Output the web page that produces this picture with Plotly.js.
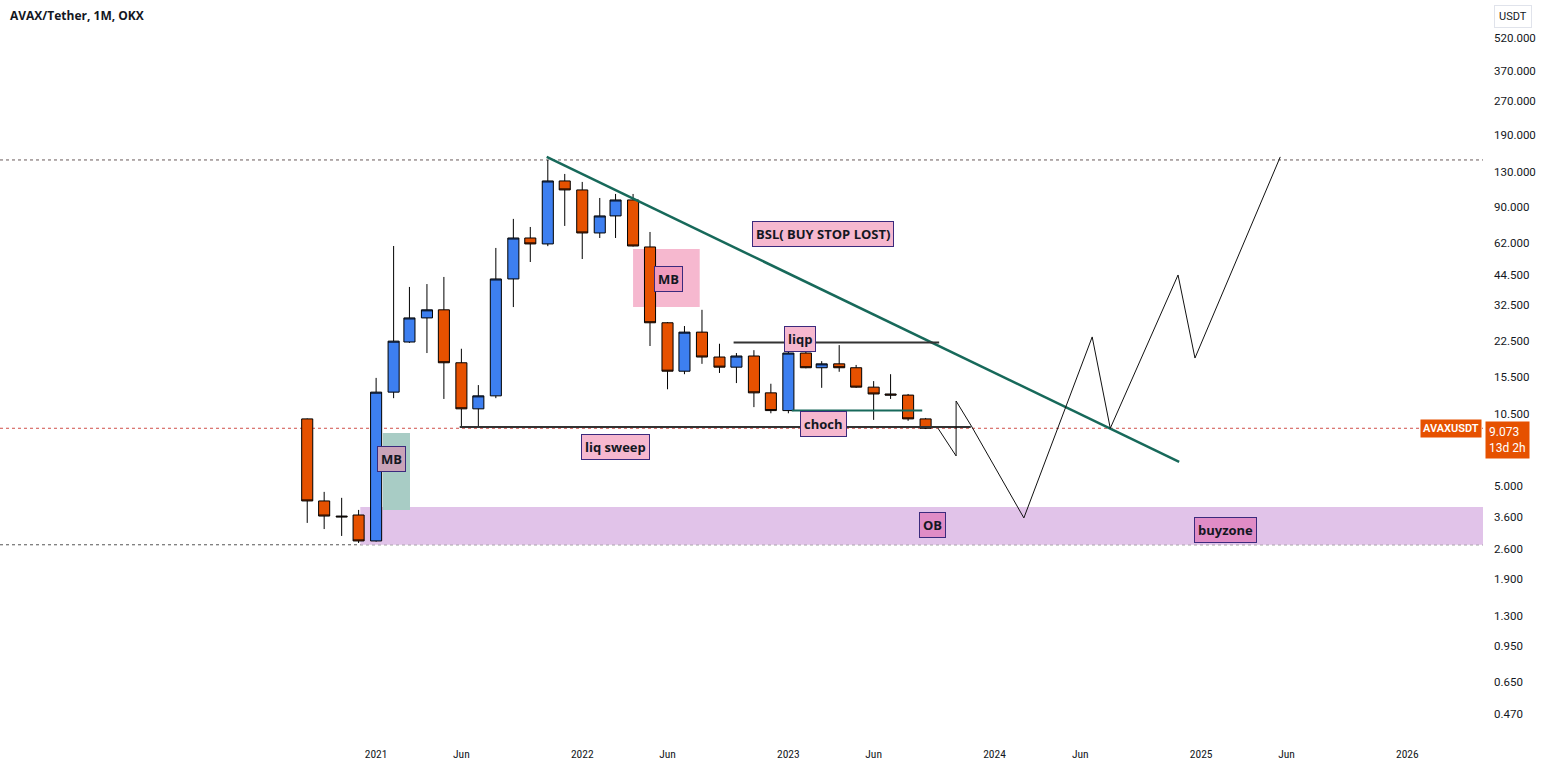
<!DOCTYPE html>
<html>
<head>
<meta charset="utf-8">
<script src="https://cdn.plot.ly/plotly-3.0.1.min.js"></script>
<style>
  html, body { margin: 0; padding: 0; background: #fff; }
  #chart { width: 1545px; height: 773px; }
</style>
</head>
<body>
<div id="chart"></div>
<script>
// monthly candles, AVAX/USDT (OKX)
var months = ['2020-09-01','2020-10-01','2020-11-01','2020-12-01',
  '2021-01-01','2021-02-01','2021-03-01','2021-04-01','2021-05-01','2021-06-01',
  '2021-07-01','2021-08-01','2021-09-01','2021-10-01','2021-11-01','2021-12-01',
  '2022-01-01','2022-02-01','2022-03-01','2022-04-01','2022-05-01','2022-06-01',
  '2022-07-01','2022-08-01','2022-09-01','2022-10-01','2022-11-01','2022-12-01',
  '2023-01-01','2023-02-01','2023-03-01','2023-04-01','2023-05-01','2023-06-01',
  '2023-07-01','2023-08-01','2023-09-01'];
var opens  = [10.0, 4.27, 3.65, 3.69, 2.82, 13.2, 22.2, 28.5, 31.0, 17.9, 11.1, 12.7,
  42.7, 65.3, 61.4, 118, 107.5, 68.8, 82.1, 96.9, 59.5, 27.1, 16.4, 24.6, 19.0, 17.1,
  19.2, 13.1, 10.9, 19.8, 17.0, 17.7, 17.0, 13.9, 12.95, 12.8, 10.0];
var highs  = [10.05, 4.69, 4.41, 3.89, 15.3, 60.1, 39.3, 40.5, 43.6, 20.7, 14.2, 58.9,
  79.6, 73.2, 146.7, 126.9, 116.8, 98.9, 103.1, 103.1, 69.5, 27.3, 26.2, 31.0, 21.8, 19.8,
  20.4, 14.4, 21.1, 22.2, 18.2, 21.5, 17.5, 14.8, 15.9, 12.95, 10.1];
var lows   = [3.40, 3.19, 2.97, 2.76, 2.80, 12.4, 22.0, 19.8, 12.3, 9.2, 9.2, 12.4,
  31.9, 50.9, 60.0, 74.0, 52.5, 65.3, 65.3, 59.8, 21.3, 13.6, 15.9, 17.7, 16.1, 14.5,
  11.3, 10.6, 10.6, 16.9, 13.8, 16.3, 13.8, 9.9, 12.3, 9.8, 9.0];
var closes = [4.27, 3.65, 3.62, 2.82, 13.2, 22.4, 28.5, 31.0, 17.9, 11.1, 12.7, 42.7,
  65.3, 61.4, 118, 107.5, 68.8, 82.1, 96.9, 60.1, 27.1, 16.4, 24.6, 19.0, 17.1, 19.2,
  13.1, 10.9, 19.8, 17.0, 17.7, 17.0, 13.9, 12.95, 12.8, 10.0, 9.073];

var lastPrice = 9.073;
var athPrice = 146.7;

// axis ticks
var xTickVals = ['2021-01-01','2021-06-01','2022-01-01','2022-06-01','2023-01-01','2023-06-01',
  '2024-01-01','2024-06-01','2025-01-01','2025-06-01','2026-01-01'];
var xTickText = ['2021','Jun','2022','Jun','2023','Jun','2024','Jun','2025','Jun','2026'];
var yTickVals = [520, 370, 270, 190, 130, 90, 62, 44.5, 32.5, 22.5, 15.5, 10.5, 5, 3.6, 2.6, 1.9, 1.3, 0.95, 0.65, 0.47];
var yTickText = ['520.000','370.000','270.000','190.000','130.000','90.000','62.000','44.500',
  '32.500','22.500','15.500','10.500','5.000','3.600','2.600','1.900','1.300','0.950','0.650','0.470'];

// drawings
var buyzoneDates = ['2020-12-04', '2026-05-15'];
var buyzonePrices = [2.71, 4.01];
var mbGreenDates = ['2021-01-13', '2021-03-02'];
var mbGreenPrices = [3.89, 8.64];
var mbPinkDates = ['2022-04-01', '2022-07-28'];
var mbPinkPrices = [31.9, 58.3];

var trendDates = ['2021-10-30', '2024-11-23'];
var trendPrices = [151.4, 6.40];
var sweepDates = ['2021-05-29', '2023-11-20'];
var sweepPrices = [9.2, 9.2];
var liqpDates = ['2022-09-26', '2023-09-25'];
var liqpPrices = [22.1, 22.1];
var chochDates = ['2023-01-07', '2023-08-26'];
var chochPrices = [10.9, 10.9];

var projDates = ['2023-09-23','2023-10-25','2023-10-25','2023-11-22','2024-02-22',
  '2024-06-22','2024-07-24','2024-11-21','2024-12-21','2025-05-21'];
var projPrices = [9.07, 6.81, 12.04, 9.2, 3.58, 23.4, 9.07, 44.5, 18.8, 151.4];

// zones go in as shapes under the candles (shape y takes plain prices on the log axis)
function zone(dates, prices, color) {
  return {type: 'rect', xref: 'x', yref: 'y', x0: dates[0], x1: dates[1], y0: prices[0], y1: prices[1],
    fillcolor: color, line: {width: 0}, layer: 'below'};
}
function seg(dates, prices, color, width) {
  return {x: dates, y: prices, type: 'scatter', mode: 'lines',
    line: {color: color, width: width}, hoverinfo: 'skip'};
}

var traces = [
  {
    x: months, open: opens, high: highs, low: lows, close: closes,
    type: 'candlestick', hoverinfo: 'skip',
    increasing: {line: {color: '#000000', width: 1}, fillcolor: '#3d7ff0'},
    decreasing: {line: {color: '#000000', width: 1}, fillcolor: '#e65100'}
  },
  seg(trendDates, trendPrices, '#17695a', 2.5),
  seg(sweepDates, sweepPrices, '#333333', 2),
  seg(liqpDates, liqpPrices, '#333333', 2),
  seg(chochDates, chochPrices, '#17695a', 2),
  seg(projDates, projPrices, '#111111', 1)
];

function tag(text, date, price, bg) {
  return {
    text: text, x: date, y: Math.log10(price), xref: 'x', yref: 'y',
    showarrow: false, bgcolor: bg, bordercolor: '#3b2a7d', borderwidth: 1, borderpad: 3,
    font: {family: 'Open Sans, sans-serif', size: 13, color: '#131722', weight: 700}
  };
}

var annotations = [
  {text: '<b>AVAX/Tether, 1M, OKX</b>', xref: 'paper', yref: 'paper', x: 8 / 1483, y: 1 - 16 / 745,
    xanchor: 'left', yanchor: 'middle', showarrow: false,
    font: {family: 'Open Sans, sans-serif', size: 12, color: '#131722'}},
  tag('BSL( BUY STOP LOST)', '2023-03-03', 68.1, '#f6b8cf'),
  tag('MB', '2022-06-03', 42.7, '#f19bbd'),
  tag('MB', '2021-01-28', 6.6, '#c9a3b8'),
  tag('liq sweep', '2022-02-28', 7.48, '#f6b8cf'),
  tag('liqp', '2023-01-21', 22.9, '#f6b8cf'),
  tag('choch', '2023-03-05', 9.49, '#f6b8cf'),
  tag('OB', '2023-09-14', 3.31, '#e08cc6'),
  tag('buyzone', '2025-02-13', 3.16, '#e08cc6'),
  {text: 'USDT', xref: 'paper', yref: 'paper', x: 1513 / 1483, y: 1 - 16.5 / 745,
    xanchor: 'center', yanchor: 'middle', showarrow: false, bgcolor: '#ffffff',
    bordercolor: '#e0e3eb', borderwidth: 1, borderpad: 4,
    font: {family: 'Roboto, sans-serif', size: 11, color: '#131722'}},
  {text: 'AVAXUSDT', xref: 'paper', yref: 'y', x: 1482 / 1483, y: Math.log10(lastPrice),
    xanchor: 'right', yanchor: 'middle', showarrow: false, bgcolor: '#e65100', borderpad: 2,
    font: {family: 'Roboto, sans-serif', size: 11, color: '#ffffff', weight: 600}},
  {text: '9.073<br>13d 2h', xref: 'paper', yref: 'paper', x: 1485 / 1483, y: 1 - 421 / 745,
    xanchor: 'left', yanchor: 'top', align: 'left', showarrow: false, bgcolor: '#e65100', borderpad: 3,
    font: {family: 'Roboto, sans-serif', size: 12, color: '#ffffff'}}
];

var shapes = [
  zone(buyzoneDates, buyzonePrices, '#e1c3e9'),
  zone(mbGreenDates, mbGreenPrices, '#a8ccc5'),
  zone(mbPinkDates, mbPinkPrices, '#f6b8cf'),
  {type: 'line', xref: 'paper', yref: 'y', x0: 0, x1: 1, y0: athPrice, y1: athPrice,
    line: {color: '#6a5a5a', width: 1, dash: 'dot'}, layer: 'below'},
  {type: 'line', xref: 'paper', yref: 'y', x0: 0, x1: 1, y0: lastPrice, y1: lastPrice,
    line: {color: '#d0504a', width: 1, dash: 'dot'}, layer: 'below'},
  {type: 'line', xref: 'paper', yref: 'y', x0: 0, x1: 1, y0: buyzonePrices[0], y1: buyzonePrices[0],
    line: {color: '#555555', width: 1, dash: 'dot'}, layer: 'below'}
];

var layout = {
  width: 1545, height: 773,
  margin: {l: 0, r: 62, t: 0, b: 28},
  paper_bgcolor: '#ffffff', plot_bgcolor: '#ffffff',
  showlegend: false,
  boxgap: 0,
  xaxis: {
    type: 'date', range: ['2019-03-07', '2026-05-15'],
    tickvals: xTickVals, ticktext: xTickText,
    showgrid: false, zeroline: false, showline: false, ticks: '',
    rangeslider: {visible: false}, fixedrange: true,
    tickfont: {family: 'Liberation Sans Narrow, Roboto Condensed, Roboto, sans-serif', size: 11.5, color: '#131722'}
  },
  yaxis: {
    type: 'log', side: 'right', range: [-0.469, 2.887],
    tickvals: yTickVals, ticktext: yTickText,
    showgrid: false, zeroline: false, showline: false, ticks: '',
    ticklabelstandoff: 10, fixedrange: true,
    tickfont: {family: 'Roboto, sans-serif', size: 11.5, color: '#131722'}
  },
  annotations: annotations,
  shapes: shapes
};

Plotly.newPlot('chart', traces, layout, {displayModeBar: false, staticPlot: true});
</script>
</body>
</html>
